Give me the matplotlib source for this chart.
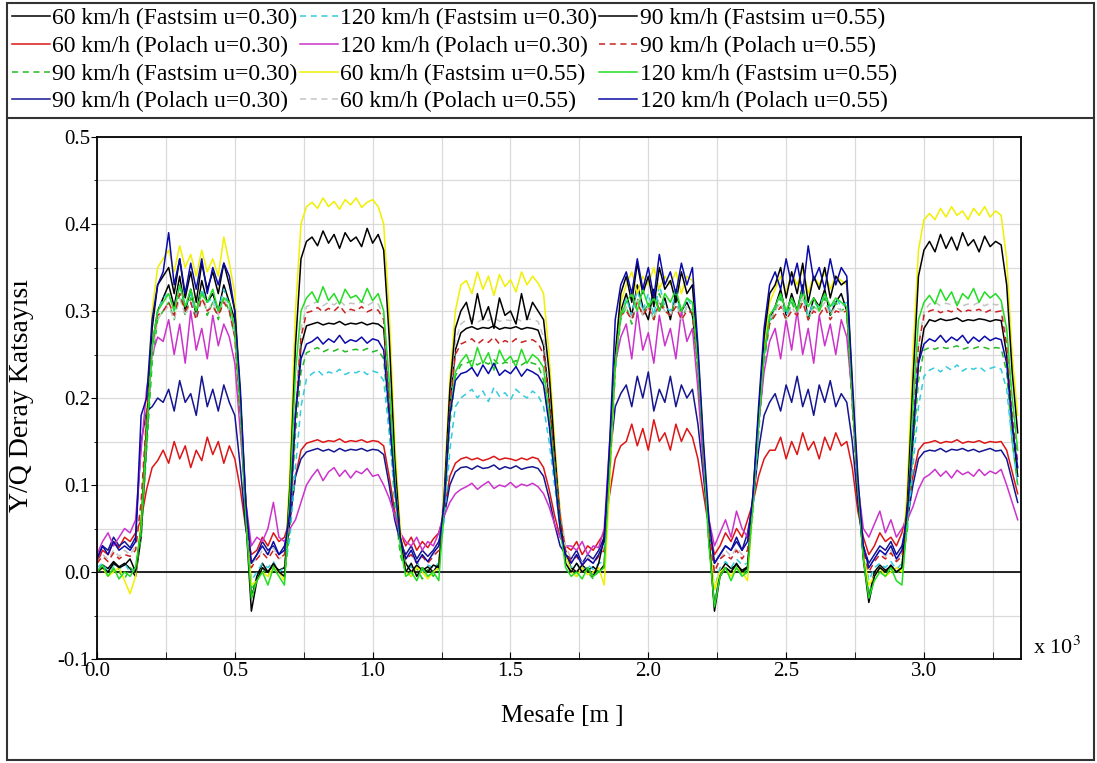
import numpy as np
import matplotlib
matplotlib.use("Agg")
import matplotlib.pyplot as plt
from matplotlib.lines import Line2D
from matplotlib.patches import Rectangle
from matplotlib.ticker import MultipleLocator, FormatStrFormatter

plt.rcParams['font.family'] = ['Liberation Serif', 'DejaVu Serif']
plt.rcParams['mathtext.fontset'] = 'stix'

# distance along the track, one sample every 20 m, in units of 10^3 m
mesafe = np.arange(168) * 0.02

# Y/Q derailment coefficient x 1000 for each run
fastsim_60_030 = [0, 8, 4, 12, 6, 10, 4, -5, 40, 150, 260, 300, 315,
    330, 305, 340, 300, 325, 295, 335, 310, 320, 300, 330, 310, 290, 200, 80, -30,
    -5, 10, 0, 8, 2, 5, 60, 180, 260, 283,
    285, 287, 284, 286, 285, 288, 284, 286, 285, 287, 284, 286, 285, 280, 200, 100, 40,
    10, 0, 8, 2, 6, 0, 10, 80, 190, 255, 275,
    280, 282, 279, 281, 280, 283, 279, 281, 280, 282, 279, 281, 280, 278, 260, 200, 130, 60, 20,
    5, 0, 8, 2, 6, 0, 8, 120, 240, 300,
    320, 295, 330, 305, 290, 325, 300, 315, 290, 320, 300, 310, 295, 240, 140, 40, -40,
    0, 10, 4, 8, 2, 6, 80, 170, 250, 290,
    305, 325, 295, 320, 300, 330, 290, 315, 305, 325, 295, 310, 320, 300, 200, 100, 20, -30,
    0, 8, 2, 6, 0, 5, 60, 150, 240, 280,
    290, 288, 291, 289, 290, 292, 288, 290, 289, 291, 290, 288, 290, 289, 250, 170, 110]
polach_60_030 = [10, 25, 20, 35, 28, 40, 35, 45, 60, 95, 120, 128, 140,
    125, 150, 130, 145, 120, 140, 128, 155, 135, 150, 125, 145, 130, 95, 50, 20,
    25, 40, 30, 45, 35, 40, 60, 110, 140, 148,
    150, 152, 149, 151, 150, 153, 149, 151, 150, 152, 149, 151, 150, 145, 110, 70, 45,
    30, 40, 25, 35, 28, 38, 45, 70, 110, 125, 130,
    132, 129, 131, 128, 130, 133, 129, 131, 130, 128, 131, 129, 132, 130, 120, 95, 65, 40, 30,
    25, 35, 20, 30, 25, 35, 45, 90, 130, 145,
    150, 170, 145, 165, 140, 175, 150, 160, 140, 170, 150, 165, 155, 130, 90, 50, 20,
    30, 45, 35, 50, 40, 60, 80, 110, 130, 140,
    140, 155, 130, 150, 135, 160, 140, 150, 130, 155, 140, 160, 145, 150, 120, 70, 40, 20,
    30, 45, 35, 40, 30, 45, 70, 110, 140, 148,
    149, 151, 148, 150, 149, 152, 148, 150, 149, 151, 148, 150, 149, 150, 140, 115, 90]
fastsim_90_030 = [0, 5, -5, 3, 0, -8, 5, 0, 40, 140, 240, 290, 300,
    310, 290, 320, 295, 315, 300, 325, 295, 310, 290, 315, 300, 270, 180, 60, -20,
    -10, 5, -5, 8, 0, -8, 50, 160, 230, 252,
    255, 258, 253, 256, 254, 257, 253, 255, 256, 254, 257, 253, 255, 245, 170, 80, 20,
    0, -5, 5, -8, 3, -5, 5, 70, 170, 225, 238,
    240, 243, 238, 242, 239, 244, 238, 241, 240, 243, 238, 242, 240, 238, 220, 170, 110, 50, 10,
    0, -5, 5, 0, -8, 3, 5, 110, 230, 290,
    305, 285, 315, 295, 310, 290, 320, 300, 295, 315, 290, 305, 300, 230, 130, 30, -35,
    -5, 5, 0, 8, -5, 5, 70, 160, 240, 285,
    300, 315, 290, 310, 295, 320, 290, 305, 300, 315, 295, 310, 300, 305, 190, 90, 15, -25,
    -5, 5, 0, 6, -3, 5, 50, 140, 220, 255,
    258, 256, 259, 257, 258, 260, 256, 258, 257, 259, 258, 256, 258, 257, 230, 150, 100]
polach_90_030 = [15, 30, 25, 40, 30, 35, 28, 40, 150, 185, 190, 200, 195,
    210, 185, 220, 195, 205, 180, 225, 190, 210, 185, 215, 195, 180, 120, 50, 10,
    20, 35, 25, 30, 20, 30, 60, 110, 130, 138,
    140, 142, 139, 141, 138, 142, 139, 141, 140, 142, 139, 141, 140, 135, 100, 60, 35,
    20, 30, 15, 25, 18, 25, 35, 65, 100, 115, 120,
    121, 118, 122, 119, 120, 123, 118, 121, 119, 122, 118, 120, 121, 119, 110, 85, 55, 30, 20,
    15, 25, 10, 20, 15, 25, 40, 130, 190, 205,
    215, 190, 225, 200, 230, 185, 210, 195, 225, 190, 215, 200, 210, 170, 110, 50, 10,
    20, 30, 25, 35, 25, 45, 80, 140, 180, 195,
    205, 185, 215, 195, 225, 190, 210, 180, 215, 195, 220, 190, 205, 195, 150, 80, 30, 10,
    20, 30, 25, 35, 20, 30, 60, 100, 130, 138,
    140, 139, 142, 138, 141, 140, 142, 139, 141, 138, 140, 142, 139, 140, 130, 105, 80]
fastsim_120_030 = [5, 10, 0, 8, 3, 10, 0, 5, 50, 160, 260, 300, 315,
    320, 300, 330, 305, 320, 295, 325, 310, 315, 300, 325, 305, 280, 190, 70, -10,
    0, 10, 5, 12, 0, 5, 40, 120, 190, 222,
    228, 232, 226, 230, 228, 233, 227, 230, 229, 232, 227, 231, 229, 220, 160, 90, 35,
    10, 5, 12, 0, 8, 5, 10, 60, 140, 190, 200,
    205, 210, 200, 208, 196, 212, 202, 206, 198, 210, 204, 200, 208, 203, 190, 150, 100, 50, 15,
    5, 10, 0, 8, 3, 10, 12, 110, 230, 295,
    315, 295, 325, 300, 320, 295, 330, 305, 300, 320, 295, 315, 305, 240, 140, 40, -20,
    5, 12, 5, 15, 8, 10, 70, 160, 245, 290,
    305, 320, 295, 315, 300, 325, 295, 310, 305, 320, 300, 315, 305, 310, 200, 100, 25, -10,
    5, 10, 5, 12, 3, 10, 50, 120, 190, 225,
    232, 235, 230, 236, 232, 238, 231, 235, 233, 236, 231, 234, 236, 233, 210, 150, 100]
polach_120_030 = [20, 35, 45, 30, 40, 50, 45, 60, 140, 210, 250, 270, 265,
    290, 250, 285, 240, 300, 255, 280, 245, 295, 260, 285, 270, 240, 160, 80, 30,
    40, 35, 50, 80, 40, 35, 50, 60, 80, 100,
    110, 118, 105, 115, 120, 110, 117, 108, 116, 113, 119, 110, 112, 100, 85, 65, 45,
    35, 30, 40, 25, 35, 30, 45, 65, 80, 90, 95,
    98, 102, 95, 100, 104, 96, 100, 98, 103, 97, 101, 99, 102, 98, 90, 75, 55, 40, 30,
    30, 25, 35, 20, 30, 28, 50, 150, 240, 270,
    285, 245, 300, 255, 275, 240, 295, 260, 280, 245, 300, 265, 280, 210, 120, 60, 30,
    45, 60, 40, 70, 50, 40, 80, 170, 230, 265,
    280, 245, 290, 255, 300, 250, 280, 240, 295, 260, 285, 250, 290, 270, 200, 100, 50, 40,
    55, 70, 45, 60, 40, 50, 60, 75, 95, 108,
    112, 118, 110, 116, 108, 117, 112, 115, 110, 118, 111, 116, 113, 118, 100, 80, 60]
fastsim_60_055 = [0, 5, -5, 0, 5, -10, -25, -5, 60, 180, 300, 350, 360,
    370, 345, 375, 350, 365, 340, 370, 345, 360, 340, 385, 355, 320, 200, 70, -15,
    -10, 0, -5, 5, 0, -10, 120, 300, 400, 420,
    425, 418, 430, 420, 426, 417, 428, 422, 430, 419, 425, 428, 420, 400, 300, 150, 50,
    0, -5, 5, 0, -8, 0, 5, 100, 220, 300, 330,
    335, 320, 345, 325, 340, 318, 342, 328, 336, 322, 345, 330, 340, 332, 320, 250, 150, 70, 20,
    0, -5, 5, -3, 0, 5, -15, 100, 240, 310,
    330, 345, 320, 340, 330, 350, 325, 340, 330, 345, 320, 340, 335, 250, 150, 40, -20,
    0, 5, -5, 5, 0, -10, 80, 180, 260, 310,
    325, 340, 320, 345, 330, 350, 320, 340, 330, 345, 325, 340, 335, 330, 220, 110, 20, -15,
    -5, 5, -5, 0, 5, 0, 100, 250, 370, 405,
    412, 405, 418, 408, 420, 410, 415, 405, 418, 410, 420, 408, 415, 410, 360, 250, 180]
polach_60_055 = [10, 20, 15, 25, 18, 25, 20, 30, 80, 170, 250, 290, 300,
    305, 290, 315, 295, 310, 290, 320, 300, 310, 295, 315, 300, 270, 180, 70, 10,
    15, 25, 20, 28, 15, 20, 70, 190, 280, 305,
    308, 311, 306, 310, 307, 312, 306, 309, 308, 311, 306, 310, 308, 295, 210, 110, 40,
    15, 20, 10, 18, 12, 20, 25, 90, 200, 265, 285,
    290, 292, 287, 291, 289, 293, 288, 290, 289, 292, 288, 291, 290, 288, 270, 210, 140, 70, 30,
    15, 20, 10, 18, 12, 20, 25, 120, 240, 295,
    305, 290, 315, 295, 305, 290, 310, 300, 295, 310, 290, 305, 300, 240, 140, 50, 0,
    15, 25, 18, 28, 20, 25, 80, 170, 250, 290,
    300, 310, 290, 305, 295, 315, 290, 305, 300, 310, 295, 305, 300, 305, 200, 100, 30, 5,
    15, 25, 18, 25, 15, 20, 70, 170, 260, 300,
    308, 310, 306, 309, 307, 311, 306, 308, 307, 310, 306, 309, 307, 308, 270, 190, 130]
fastsim_90_055 = [0, 5, 0, 10, 5, 8, 15, 0, 50, 170, 280, 330, 340,
    350, 320, 360, 315, 345, 310, 355, 325, 345, 320, 355, 330, 300, 200, 60, -45,
    -10, 5, 0, 10, 0, -5, 100, 260, 360, 380,
    385, 375, 392, 378, 388, 372, 390, 380, 385, 374, 395, 378, 388, 370, 270, 130, 40,
    0, 10, -5, 5, 0, 8, 5, 90, 210, 280, 300,
    310, 285, 320, 290, 305, 280, 315, 295, 300, 285, 320, 290, 310, 300, 290, 230, 140, 60, 10,
    0, 10, 0, 5, -5, 10, 40, 130, 250, 320,
    340, 310, 355, 320, 340, 305, 350, 325, 335, 310, 345, 320, 330, 250, 140, 40, -45,
    -5, 5, 0, 10, 0, 5, 90, 180, 270, 320,
    330, 350, 315, 345, 320, 355, 310, 340, 325, 350, 315, 340, 330, 335, 210, 100, 15, -35,
    -5, 5, 0, 8, 0, 5, 80, 220, 340, 370,
    380, 368, 388, 372, 385, 370, 390, 375, 382, 368, 386, 374, 380, 376, 330, 230, 160]
polach_90_055 = [10, 18, 12, 22, 15, 20, 18, 25, 80, 180, 260, 295, 300,
    310, 295, 320, 300, 310, 290, 315, 300, 305, 295, 310, 300, 270, 180, 70, 5,
    15, 22, 15, 25, 15, 20, 70, 180, 270, 298,
    300, 304, 299, 303, 300, 306, 298, 302, 300, 305, 299, 302, 301, 290, 200, 105, 40,
    15, 20, 10, 18, 10, 18, 25, 80, 190, 250, 262,
    265, 268, 262, 267, 264, 270, 262, 266, 263, 268, 264, 266, 267, 263, 250, 195, 130, 65, 25,
    12, 18, 8, 15, 10, 18, 25, 120, 240, 295,
    300, 290, 310, 295, 305, 290, 310, 300, 295, 305, 290, 300, 298, 235, 140, 45, 0,
    15, 20, 15, 25, 15, 25, 80, 170, 250, 285,
    295, 305, 290, 300, 295, 310, 290, 300, 295, 305, 290, 300, 298, 300, 195, 95, 25, 0,
    12, 20, 15, 22, 12, 18, 70, 170, 260, 295,
    300, 302, 298, 301, 299, 303, 298, 301, 300, 302, 298, 301, 299, 300, 260, 180, 125]
fastsim_120_055 = [0, 8, -5, 5, -8, 0, -5, 5, 50, 160, 260, 300, 310,
    320, 300, 330, 305, 325, 300, 320, 310, 325, 300, 315, 310, 280, 190, 60, -30,
    -10, 0, -15, 5, -5, -15, 90, 230, 300, 315,
    322, 310, 328, 312, 320, 308, 325, 315, 318, 310, 326, 312, 320, 300, 220, 110, 30,
    -5, 0, -10, 5, -5, 0, -10, 80, 180, 230, 242,
    250, 235, 258, 240, 252, 232, 255, 242, 248, 236, 256, 240, 250, 245, 235, 180, 120, 50, 5,
    -5, 0, -8, 5, -5, 0, 5, 120, 240, 295,
    310, 320, 300, 325, 305, 315, 300, 320, 310, 325, 300, 315, 310, 240, 140, 30, -40,
    -5, 5, -10, 5, -5, 0, 80, 170, 250, 295,
    305, 320, 300, 315, 300, 325, 305, 315, 300, 320, 305, 315, 310, 305, 200, 100, 15, -30,
    -10, 0, -5, 5, -10, -15, 60, 190, 290, 310,
    318, 308, 325, 312, 322, 306, 320, 314, 326, 310, 322, 315, 320, 312, 280, 200, 140]
polach_120_055 = [15, 30, 20, 35, 25, 30, 25, 35, 180, 200, 290, 330, 345,
    390, 330, 360, 320, 355, 325, 360, 320, 350, 330, 355, 340, 300, 210, 80, 10,
    20, 30, 20, 35, 20, 25, 70, 180, 245, 262,
    265, 270, 262, 268, 264, 272, 263, 267, 265, 270, 263, 268, 266, 255, 180, 100, 40,
    15, 25, 10, 20, 12, 22, 30, 80, 180, 220, 228,
    230, 235, 225, 238, 228, 240, 226, 232, 228, 236, 225, 233, 230, 226, 215, 170, 110, 50, 20,
    10, 20, 8, 15, 10, 20, 35, 150, 290, 330,
    345, 320, 360, 325, 350, 315, 365, 330, 345, 320, 355, 330, 350, 260, 150, 60, 10,
    20, 30, 25, 40, 25, 35, 90, 190, 280, 330,
    345, 325, 360, 330, 355, 320, 375, 335, 350, 325, 360, 330, 350, 340, 220, 110, 30, 5,
    15, 25, 20, 30, 15, 25, 70, 160, 240, 262,
    268, 265, 272, 264, 270, 266, 272, 263, 270, 265, 271, 266, 269, 267, 240, 170, 120]

runs = [
    ("60 km/h (Fastsim u=0.30)", fastsim_60_030, "#000000", "-"),
    ("60 km/h (Polach u=0.30)", polach_60_030, "#dd1515", "-"),
    ("90 km/h (Fastsim u=0.30)", fastsim_90_030, "#22bb22", "--"),
    ("90 km/h (Polach u=0.30)", polach_90_030, "#151590", "-"),
    ("120 km/h (Fastsim u=0.30)", fastsim_120_030, "#33ccdd", "--"),
    ("120 km/h (Polach u=0.30)", polach_120_030, "#cc33cc", "-"),
    ("60 km/h (Fastsim u=0.55)", fastsim_60_055, "#f0f000", "-"),
    ("60 km/h (Polach u=0.55)", polach_60_055, "#c4c4c4", "--"),
    ("90 km/h (Fastsim u=0.55)", fastsim_90_055, "#000000", "-"),
    ("90 km/h (Polach u=0.55)", polach_90_055, "#cc2222", "--"),
    ("120 km/h (Fastsim u=0.55)", fastsim_120_055, "#22dd22", "-"),
    ("120 km/h (Polach u=0.55)", polach_120_055, "#0a0aa8", "-"),
]

fig = plt.figure(figsize=(10.97, 7.63), dpi=100)
W, H = 1097.0, 763.0
ax = fig.add_axes([97 / W, 1 - 659 / H, (1021 - 97) / W, (659 - 137) / H])

handles = []
for label, vals, col, ls in runs:
    assert len(vals) == len(mesafe), label
    y = np.array(vals) / 1000.0
    if ls == "--":
        ln, = ax.plot(mesafe, y, color=col, lw=1.1, dashes=(4, 3), label=label)
    else:
        ln, = ax.plot(mesafe, y, color=col, lw=1.1, label=label)
    handles.append(ln)

ax.axhline(0, color="black", lw=1.2, zorder=1.5)
ax.set_xlim(0, 3.352)
ax.set_ylim(-0.1, 0.5)
ax.xaxis.set_major_locator(MultipleLocator(0.5))
ax.xaxis.set_minor_locator(MultipleLocator(0.25))
ax.yaxis.set_major_locator(MultipleLocator(0.1))
ax.yaxis.set_minor_locator(MultipleLocator(0.05))
ax.xaxis.set_major_formatter(FormatStrFormatter("%.1f"))
ax.yaxis.set_major_formatter(FormatStrFormatter("%.1f"))
ax.grid(which="both", color="#dadada", lw=0.9)
ax.set_axisbelow(True)
ax.tick_params(axis="x", which="both", direction="in", length=5, labelsize=15, pad=2)
ax.tick_params(axis="y", which="major", direction="out", length=4, labelsize=15, pad=1)
ax.tick_params(axis="y", which="minor", direction="out", length=2)
for sp in ax.spines.values():
    sp.set_linewidth(1.3)

fig.text(22 / W, 1 - 395 / H, "Y/Q Deray Katsayısı", rotation=90,
         ha="center", va="center", fontsize=20)
fig.text(562 / W, 1 - 716 / H, "Mesafe [m ]", ha="center", va="center", fontsize=18)
fig.text(1033 / W, 1 - 648 / H, r"x 10$^3$", ha="left", va="center", fontsize=16)

fig.legend(handles=handles, ncol=3, loc="upper left",
           bbox_to_anchor=(12 / W, 1 - 8 / H), frameon=False, fontsize=17,
           handlelength=1.6, handletextpad=0.1, columnspacing=0.1,
           labelspacing=0.26, borderpad=0, borderaxespad=0)

# outer frame and the rule under the legend
fig.add_artist(Rectangle((7 / W, 3 / H), (1094 - 7) / W, (760 - 3) / H,
                         transform=fig.transFigure, fill=False, ec="#333333", lw=1.5))
fig.add_artist(Line2D([7 / W, 1094 / W], [1 - 118 / H, 1 - 118 / H],
                      transform=fig.transFigure, color="#333333", lw=1.5))

fig.savefig("out.png", dpi=100)
